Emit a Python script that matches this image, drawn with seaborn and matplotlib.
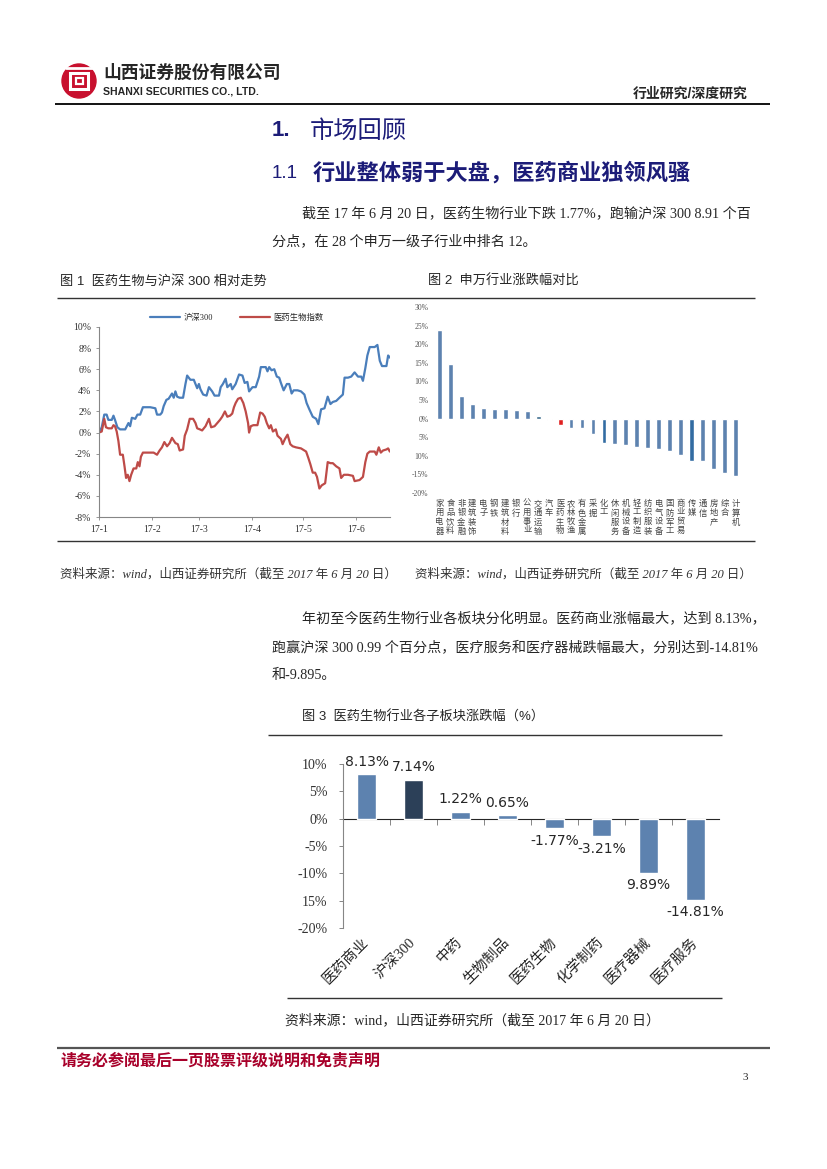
import numpy as np
import pandas as pd
import matplotlib
matplotlib.use("Agg")
from matplotlib import pyplot as plt
from matplotlib import patches
import matplotlib.dates as mdates
from matplotlib.ticker import FixedLocator, FixedFormatter
import seaborn as sns

# ---------------- figure 1: relative trend (days after 2017-01-01, %) ----------------
hs300_day = [0, 1.6, 3.1, 4.5, 5.5, 7.5, 8.5, 9.4, 10.8, 12.4, 15.4, 17.3, 18.3, 19.3, 21.3, 22.6, 24.2,
             25.8, 30.1, 33.1, 34.1, 36, 37, 38, 39.6, 40.9, 42.9, 43.9, 44.9, 45.9, 47.4, 49.4, 50.8,
             51.8, 53.7, 55.7, 56.7, 57.7, 58.7, 59.6, 61.2, 63.2, 64.6, 66.5, 67.9, 70.5, 71.5, 72.8,
             74.4, 75.4, 77.4, 78.3, 80.3, 82.3, 84.3, 85.6, 87.2, 88.2, 90.2, 92.1, 94.1, 95.1, 98, 99,
             100, 101.4, 103, 104.5, 105.9, 106.9, 108.5, 110.4, 111.8, 113.2, 114.4, 116.7, 118.7,
             120.7, 122, 123.6, 125.6, 127.6, 128.9, 130.5, 132.5, 134.4, 136, 137.4, 139.4, 141.3,
             143.3, 144.3, 146.3, 148.2, 150.2, 152.2, 154.1, 155.1, 156.5, 157.7, 159.1, 162, 163.6,
             165, 166.3, 168.9, 169.9, 170.9]
hs300_pct = [0, 0.5, 1.7, 1.7, 1.2, 1.2, 1.6, 1.2, 0.5, 0.3, 0.3, 0.9, 0.6, 1.4, 1.3, 1.7, 1.7,
             2.4, 2.4, 2.3, 1.7, 1.7, 1.9, 2.5, 3.1, 3.2, 3.7, 3.3, 3.9, 3.4, 3.3, 3.3, 4.6,
             5.4, 5.0, 5.0, 4.6, 4.2, 4.6, 4.1, 3.6, 3.5, 4.3, 3.9, 3.5, 3.5, 4.3, 4.6,
             5.1, 4.3, 4.6, 4.1, 4.6, 5.5, 5.4, 4.7, 4.8, 3.9, 4.3, 4.3, 5.3, 6.2, 6.2, 5.8,
             6.2, 5.9, 6.0, 5.3, 5.2, 4.7, 4.0, 4.6, 4.6, 3.7, 4.0, 4.0, 3.9,
             3.6, 2.8, 2.2, 1.5, 1.3, 0.8, 2.2, 2.3, 3.4, 2.7, 2.9, 3.0, 3.3,
             3.6, 5.2, 5.2, 5.3, 5.7, 5.3, 5.3, 4.9, 6.1, 7.3, 8.1, 8.1, 8.3,
             6.8, 6.3, 6.3, 7.3, 7.1]

pharma_day = [0, 1.6, 3.1, 4.1, 5.5, 7.5, 8.5, 9.4, 10.4, 11.4, 12.4, 14, 15, 15.9, 16.9, 17.9, 18.9,
              20.3, 21.9, 22.8, 23.8, 24.6, 25.8, 29.1, 32.1, 34.1, 35.6, 37, 38.4, 40, 41.5, 42.9,
              44.9, 46.3, 47.4, 49.4, 50.4, 51.8, 53.3, 55.3, 56.7, 57.7, 59.3, 60.6, 62.6, 64.6,
              65.9, 67.9, 69.5, 71.1, 72.4, 74, 75.4, 77, 78.3, 79.3, 80.3, 81.7, 83.3, 84.8, 86.2,
              87.6, 88.2, 89.2, 90.7, 93.1, 94.7, 96.1, 97.4, 98.6, 100, 101, 102.2, 103.9, 104.9,
              106.9, 107.9, 109.3, 110.8, 112.4, 113.8, 115.7, 118.7, 121.7, 123, 124.2, 125.6, 127,
              128.1, 129.5, 130.9, 132.9, 134.4, 136, 137.4, 139.4, 141.3, 142.3, 143.9, 146.3, 149.2,
              150.2, 153.1, 155.1, 156.5, 157.7, 159.1, 162, 163, 164.4, 165.6, 166.9, 168.9, 169.9, 170.9]
pharma_pct = [0, 0.1, 1.3, 0.5, 0.4, 0.4, 0.7, 0.6, 0.1, -0.8, -2.1, -2.1, -3.2, -4.3, -4.0, -4.6, -4.0,
              -3.4, -3.4, -2.8, -3.2, -2.3, -1.9, -1.9, -1.9, -2.1, -1.7, -1.4, -0.9, -1.3, -1.0, -0.5,
              -1.0, -1.1, -1.7, -1.6, -0.3, 0.3, 1.3, 1.3, 0.9, 0.4, 0.3, 0.2, 0.6, 1.3,
              0.5, 0.6, 0.9, 1.2, 1.5, 2.0, 1.5, 1.6, 1.8, 2.4, 2.8, 3.2, 3.3, 2.8, 2.0,
              0.9, 0.0, 0.6, 0.7, 0.7, 1.9, 1.8, 1.5, 0.9, 0.4, 0.7, 0.1, 0.3, -0.3,
              -0.6, -1.1, -0.6, -0.2, -1.1, -1.3, -1.4, -1.5, -1.8, -2.4, -3.0, -3.8, -3.8,
              -4.2, -5.3, -5.0, -4.8, -2.8, -2.9, -2.9, -3.2, -3.4, -4.3, -4.0, -4.0, -4.1,
              -4.6, -4.5, -4.2, -2.8, -2.0, -1.8, -1.8, -2.1, -1.4, -1.9, -1.7, -1.6, -1.5, -1.8]

fig1_series = ["沪深300", "医药生物指数"]
fig1_yticks = ["10%", "8%", "6%", "4%", "2%", "0%", "-2%", "-4%", "-6%", "-8%"]

# ---------------- figure 2: SW level-1 industries (%) ----------------
sw_names = ["家用电器", "食品饮料", "非银金融", "建筑装饰", "电子", "钢铁", "建筑材料", "银行",
            "公用事业", "交通运输", "汽车", "医药生物", "农林牧渔", "有色金属", "采掘", "化工",
            "休闲服务", "机械设备", "轻工制造", "纺织服装", "电气设备", "国防军工", "商业贸易",
            "传媒", "通信", "房地产", "综合", "计算机"]
sw_pct = [23.9, 14.6, 6.0, 3.8, 2.9, 2.7, 2.7, 2.4, 2.0, 0.8, -0.3, -1.77, -2.5, -2.5, -4.1, -6.5,
          -6.9, -7.2, -7.5, -7.9, -8.3, -8.6, -9.9, -11.4, -11.4, -13.5, -14.7, -15.3]
sw_colors = ["#4f81bd"] * 9 + ["#2f6f9a", "#3d95a5", "#ff0000"] + ["#4f81bd"] * 3 + ["#1f6db5"] \
            + ["#4f81bd"] * 7 + ["#1f6db5"] + ["#4f81bd"] * 4
fig2_yticks = ["30%", "25%", "20%", "15%", "10%", "5%", "0%", "5%", "10%", "-15%", "-20%"]

# ---------------- figure 3: pharma sub sectors (%) ----------------
sub_names = ["医药商业", "沪深300", "中药", "生物制品", "医药生物", "化学制药", "医疗器械", "医疗服务"]
sub_pct = [8.13, 7.14, 1.22, 0.65, -1.77, -3.21, -9.89, -14.81]
sub_labels = ["8.13%", "7.14%", "1.22%", "0.65%", "-1.77%", "-3.21%", "9.89%", "-14.81%"]
sub_colors = ["#4f81bd", "#243f60", "#4f81bd", "#4f81bd", "#4f81bd", "#4f81bd", "#4f81bd", "#4f81bd"]
fig3_yticks = ["10%", "5%", "0%", "-5%", "-10%", "15%", "-20%"]

sns.set_style("ticks")
SERIF = ["Liberation Serif", "Noto Sans CJK SC", "DejaVu Sans"]
SANS = ["Liberation Sans", "Noto Sans CJK SC", "DejaVu Sans"]
plt.rcParams["font.family"] = SERIF

W, H = 827, 1169
fig = plt.figure(figsize=(8.27, 11.69), dpi=100)
page = fig.add_axes([0, 0, 1, 1])
page.set_xlim(0, W)
page.set_ylim(H, 0)
page.axis("off")


def rect(l, t, r, b):
    return [l / W, 1 - b / H, (r - l) / W, (b - t) / H]


def hline(y, x0, x1, lw=1.0, color="#333333"):
    page.plot([x0, x1], [y, y], color=color, lw=lw, solid_capstyle="butt")


# ---------------- page header ----------------
page.add_patch(patches.Circle((79, 81), 17, color="#c8102e"))
page.add_patch(patches.Rectangle((70, 73), 18, 16, fill=False, ec="white", lw=2.2))
page.add_patch(patches.Rectangle((75.5, 78), 7, 6, fill=False, ec="white", lw=1.6))
page.plot([66, 92], [68, 68], color="white", lw=2)
page.text(103, 73, "山西证券股份有限公司", fontsize=12.8, fontweight="bold", family=SANS, va="center")
page.text(103, 91, "SHANXI SECURITIES CO., LTD.", fontsize=7.6, fontweight="bold", family=SANS, va="center")
page.text(748, 94, "行业研究/深度研究", fontsize=10, fontweight="bold", family=SANS, va="center", ha="right")
hline(104, 55, 770, lw=1.3, color="black")

navy = "#1c1c78"
page.text(272, 131, "1.", fontsize=16, fontweight="bold", family=SANS, color=navy, va="center")
page.text(310, 131, "市场回顾", fontsize=17.5, family=SANS, color=navy, va="center")
page.text(272, 173, "1.1", fontsize=13.5, family=SANS, color=navy, va="center")
page.text(313, 173, "行业整体弱于大盘，医药商业独领风骚", fontsize=16, fontweight="bold", family=SANS,
          color=navy, va="center")

BODY = 10.15
page.text(302, 213, "截至 17 年 6 月 20 日，医药生物行业下跌 1.77%，跑输沪深 300 8.91 个百",
          fontsize=BODY, va="center")
page.text(272, 241, "分点，在 28 个申万一级子行业中排名 12。", fontsize=BODY, va="center")

page.text(60, 281, "图 1  医药生物与沪深 300 相对走势", fontsize=9.5, family=SANS, va="center")
page.text(428, 281, "图 2  申万行业涨跌幅对比", fontsize=9.5, family=SANS, va="center")
hline(298, 57, 755, lw=1.0)
hline(541, 57, 755, lw=1.0)

src = "资料来源：wind，山西证券研究所（截至 2017 年 6 月 20 日）"
page.text(60, 574, src, fontsize=9, style="italic", color="#333333", va="center")
page.text(415, 574, src, fontsize=9, style="italic", color="#333333", va="center")

page.text(302, 619, "年初至今医药生物行业各板块分化明显。医药商业涨幅最大，达到 8.13%，",
          fontsize=BODY, va="center")
page.text(272, 647, "跑赢沪深 300 0.99 个百分点，医疗服务和医疗器械跌幅最大，分别达到-14.81%",
          fontsize=BODY, va="center")
page.text(272, 675, "和-9.895。", fontsize=BODY, va="center")

page.text(302, 717, "图 3  医药生物行业各子板块涨跌幅（%）", fontsize=9.5, family=SANS, va="center")
hline(735, 268, 722, lw=1.0)
hline(998, 287, 722, lw=1.0)
page.text(285, 1020, src, fontsize=10, va="center")

hline(1048, 57, 770, lw=1.6, color="#555555")
page.text(60, 1061, "请务必参阅最后一页股票评级说明和免责声明", fontsize=11.5, fontweight="bold",
          color="#a8002a", va="center")
page.text(748, 1078, "3", fontsize=8, va="center", ha="right")

# ---------------- figure 1 ----------------
start = pd.Timestamp("2017-01-01")
df1 = pd.concat([
    pd.DataFrame({"date": start + pd.to_timedelta(hs300_day, unit="D"), "pct": hs300_pct,
                  "series": fig1_series[0]}),
    pd.DataFrame({"date": start + pd.to_timedelta(pharma_day, unit="D"), "pct": pharma_pct,
                  "series": fig1_series[1]}),
])
ax1 = fig.add_axes(rect(99, 327, 390, 517))
sns.lineplot(data=df1, x="date", y="pct", hue="series", palette=["#4a7ebb", "#be4b48"],
             linewidth=1.6, ax=ax1)
ax1.set_xlim(start, start + pd.Timedelta(days=171))
ax1.set_ylim(-8, 10)
ax1.yaxis.set_major_locator(FixedLocator([10, 8, 6, 4, 2, 0, -2, -4, -6, -8]))
ax1.yaxis.set_major_formatter(FixedFormatter(fig1_yticks))
ax1.xaxis.set_major_locator(mdates.MonthLocator())
ax1.xaxis.set_major_formatter(mdates.DateFormatter("%y-%-m"))
ax1.set_xlabel("")
ax1.set_ylabel("")
ax1.tick_params(labelsize=7, length=2.5, width=0.6, color="#868686", labelcolor="#333333", pad=3)
sns.despine(ax=ax1)
for s in ("left", "bottom"):
    ax1.spines[s].set_color("#868686")
    ax1.spines[s].set_linewidth(0.8)
leg = ax1.legend(loc="center", bbox_to_anchor=(0.474, 1.05), ncol=2, frameon=False,
                 fontsize=6, handlelength=3.6, columnspacing=3.2, handletextpad=0.4)
for line in leg.get_lines():
    line.set_linewidth(1.6)

# ---------------- figure 2 ----------------
ax2 = fig.add_axes(rect(434, 307, 741, 493))
sns.barplot(x=sw_names, y=sw_pct, hue=sw_names, palette=sw_colors, legend=False,
            width=0.44, ax=ax2)
ax2.set_xlim(-0.5, len(sw_names) - 0.5)
ax2.set_ylim(-20, 30)
ax2.yaxis.set_major_locator(FixedLocator([30, 25, 20, 15, 10, 5, 0, -5, -10, -15, -20]))
ax2.yaxis.set_major_formatter(FixedFormatter(fig2_yticks))
ax2.set_xticks(range(len(sw_names)))
ax2.set_xticklabels(["\n".join(n) for n in sw_names], fontsize=6, linespacing=1.2,
                    family=SANS, va="top")
ax2.tick_params(axis="y", labelsize=5.5, length=0, pad=4, labelcolor="#555555")
ax2.tick_params(axis="x", length=0, pad=5, labelcolor="#444444")
sns.despine(ax=ax2, left=True, bottom=True)

# ---------------- figure 3 ----------------
ax3 = fig.add_axes(rect(343, 764, 719, 928))
sns.barplot(x=sub_names, y=sub_pct, hue=sub_names, palette=sub_colors, legend=False,
            width=0.4, ax=ax3)
ax3.set_xlim(-0.5, len(sub_names) - 0.5)
ax3.set_ylim(-20, 10)
ax3.yaxis.set_major_locator(FixedLocator([10, 5, 0, -5, -10, -15, -20]))
ax3.yaxis.set_major_formatter(FixedFormatter(fig3_yticks))
ax3.tick_params(axis="y", labelsize=10, length=3, width=0.7, color="#868686",
                labelcolor="#333333", pad=8)
ax3.set_xticks(range(len(sub_names)))
ax3.set_xticklabels(sub_names, rotation=45, ha="right", va="center", rotation_mode="anchor",
                    fontsize=10.5)
ax3.tick_params(axis="x", length=0, pad=9)
sns.despine(ax=ax3, bottom=True)
ax3.spines["left"].set_color("#868686")
ax3.spines["left"].set_linewidth(0.8)
# category axis drawn through zero, with ticks between categories pointing down
zero_axis = ax3.secondary_xaxis(2 / 3)
zero_axis.set_xticks(np.arange(0.5, len(sub_names) - 0.5, 1))
zero_axis.set_xticklabels([])
zero_axis.tick_params(length=4, width=0.7, color="#868686", direction="in")
zero_axis.spines["bottom"].set_color("#868686")
zero_axis.spines["bottom"].set_linewidth(0.8)
for cont, lab in zip(ax3.containers, sub_labels):
    ax3.bar_label(cont, labels=[lab], padding=4, fontsize=10, family=["DejaVu Sans"])

fig.savefig("out.png", dpi=100)
